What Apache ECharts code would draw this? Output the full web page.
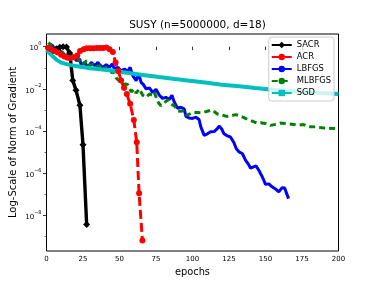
<!DOCTYPE html>
<html><head><meta charset="utf-8">
<script src="https://cdn.jsdelivr.net/npm/echarts@6/dist/echarts.min.js"></script>
<style>html,body{margin:0;padding:0;background:#fff}#c{width:376px;height:282px}</style>
</head><body><div id="c"></div>
<script>
const FONT = 'DejaVu Sans';
const titleText = 'SUSY (n=5000000, d=18)';
const seriesNames = ['SACR', 'ACR', 'LBFGS', 'MLBFGS', 'SGD'];
const xTickValues = [0, 25, 50, 75, 100, 125, 150, 175, 200];
const yMajorExp = [-8, -6, -4, -2, 0];
const yMinorExp = [-9, -7, -5, -3, -1];

// values are log10(norm of gradient)
const sacrEpochs = [4.5, 6.8, 9.1, 11.4, 13.7, 15.9, 18.0, 20.2, 22.9, 25.0, 27.5];
const sacrLog = [-0.18, -0.1, -0.03, 0.0, -0.02, -0.3, -1.6, -2.06, -2.78, -4.65, -8.42];

const acrEpochs = [1.0, 3.2, 5.5, 7.7, 10.0, 12.2, 14.4, 16.6, 18.9, 21.1, 23.0, 25.5, 27.7, 30.0, 32.2, 34.4, 36.6, 38.8, 41.0, 43.2, 45.4, 47.3, 49.2, 51.1, 53.1, 55.0, 57.3, 59.8, 61.8, 63.4, 65.7];
const acrLog = [-0.05, -0.12, -0.2, -0.28, -0.38, -0.47, -0.53, -0.54, -0.5, -0.42, -0.2, -0.12, -0.08, -0.08, -0.07, -0.06, -0.06, -0.06, -0.04, -0.12, -0.25, -0.75, -1.15, -1.6, -1.95, -2.24, -2.71, -3.47, -4.53, -6.94, -9.18];

const lbfgsEpochs = [2.3, 4.1, 5.7, 8.0, 9.1, 11.4, 13.6, 15.5, 17.0, 18.2, 20.5, 22.7, 23.9, 26.1, 28.4, 30.7, 33.0, 35.2, 36.4, 38.6, 40.9, 43.2, 45.0, 46.6, 48.9, 51.1, 53.4, 55.7, 57.3, 59.1, 61.4, 63.2, 64.8, 66.4, 68.2, 70.5, 72.7, 75.0, 77.3, 79.5, 81.8, 84.1, 85.9, 87.5, 89.8, 92.0, 94.3, 95.5, 97.7, 100.0, 102.3, 104.5, 105.7, 108.0, 110.2, 112.5, 114.8, 117.0, 118.2, 120.0, 121.6, 123.2, 126.1, 128.4, 130.0, 131.8, 134.1, 136.4, 138.6, 139.8, 141.4, 143.6, 145.5, 147.3, 148.9, 150.0, 152.3, 154.5, 156.8, 159.1, 161.4, 163.2, 164.1, 165.8];
const lbfgsLog = [0.12, 0.05, -0.11, -0.35, -0.19, -0.32, -0.5, -0.38, -0.58, -0.43, -0.66, -0.58, -0.9, -0.74, -0.98, -0.74, -0.9, -0.74, -0.85, -0.98, -0.85, -0.98, -0.82, -1.06, -0.98, -1.14, -1.06, -1.17, -0.98, -1.37, -1.61, -1.3, -1.69, -1.8, -2.0, -1.95, -2.16, -2.02, -2.3, -2.45, -2.4, -2.5, -2.3, -2.62, -2.92, -2.87, -2.95, -3.3, -3.38, -3.4, -3.34, -3.45, -3.8, -4.2, -4.13, -4.03, -4.02, -3.88, -3.76, -3.9, -4.13, -4.2, -4.29, -4.55, -4.84, -4.98, -5.06, -5.39, -5.6, -5.76, -5.71, -5.65, -5.87, -6.1, -6.34, -6.52, -6.5, -6.64, -6.74, -6.88, -6.68, -6.7, -6.89, -7.2];

const mlbfgsEpochs = [1.5, 2.8, 4.5, 6.8, 8.6, 10.2, 11.8, 13.6, 15.9, 17.5, 19.3, 21.6, 23.2, 25.0, 27.3, 29.5, 31.8, 34.1, 36.4, 38.6, 40.9, 43.2, 45.5, 47.7, 50.0, 52.3, 54.1, 55.7, 58.0, 60.2, 61.4, 63.6, 65.9, 68.2, 70.5, 72.7, 73.9, 76.1, 78.4, 80.7, 83.0, 85.2, 87.5, 89.8, 92.0, 94.3, 95.9, 97.7, 100.0, 103.4, 106.8, 110.2, 113.6, 117.0, 120.5, 123.2, 126.1, 129.5, 131.8, 134.5, 137.5, 140.9, 144.3, 146.6, 150.0, 153.4, 156.8, 160.2, 163.6, 168.2, 172.7, 176.1, 179.5, 184.1, 188.6, 193.2, 200.0];
const mlbfgsLog = [0.2, 0.18, -0.11, -0.27, -0.11, -0.35, -0.19, -0.5, -0.54, -0.38, -0.66, -0.54, -0.79, -0.85, -0.66, -0.9, -0.82, -0.98, -0.9, -1.06, -0.98, -1.26, -1.17, -1.48, -1.64, -1.8, -1.77, -1.8, -2.14, -2.0, -2.2, -2.0, -2.3, -2.4, -2.24, -2.3, -2.16, -2.6, -2.8, -2.65, -2.52, -2.72, -2.8, -3.04, -3.06, -3.03, -3.26, -3.2, -3.12, -3.12, -3.13, -3.06, -3.0, -3.19, -3.24, -3.3, -3.28, -3.22, -3.26, -3.34, -3.44, -3.53, -3.62, -3.6, -3.64, -3.73, -3.68, -3.62, -3.64, -3.68, -3.72, -3.69, -3.79, -3.8, -3.84, -3.86, -3.88];

const sgdEpochs = [0, 2.5, 5, 7.5, 10, 12.5, 15, 20, 30, 43, 55, 66, 77, 88, 98, 110, 120, 132, 143, 155, 166, 177, 188, 200];
const sgdLog = [-0.15, -0.33, -0.5, -0.65, -0.75, -0.8, -0.85, -0.92, -1.02, -1.12, -1.24, -1.34, -1.44, -1.53, -1.61, -1.71, -1.8, -1.88, -1.96, -2.04, -2.1, -2.15, -2.2, -2.24];

const Y_MIN = -9.68, Y_MAX = 0.6;

function pairs(xs, ys) { return xs.map((x, i) => [x, ys[i]]); }

const chart = echarts.init(document.getElementById('c'), null, { renderer: 'canvas' });
const txt = { fontFamily: FONT, color: '#000' };
chart.setOption({
  animation: false,
  backgroundColor: '#fff',
  title: {
    text: titleText, left: 192.5, top: 15, textAlign: 'center',
    textStyle: { fontFamily: FONT, fontSize: 10.5, fontWeight: 'normal', color: '#000' }
  },
  grid: { left: 46.5, right: 37.5, top: 34, bottom: 31, containLabel: false, outerBoundsMode: 'none',
    show: true, borderColor: '#000', borderWidth: 1, backgroundColor: 'rgba(0,0,0,0)' },
  legend: {
    orient: 'vertical', right: 42, top: 37,
    data: seriesNames,
    itemWidth: 20, itemHeight: 8, itemGap: 4,
    padding: [4, 3, 4, 2],
    backgroundColor: 'rgba(255,255,255,0.8)', borderColor: '#ccc', borderWidth: 1, borderRadius: 3,
    textStyle: { fontFamily: FONT, fontSize: 8.4, color: '#000' }
  },
  xAxis: {
    type: 'value', min: 0, max: 200, interval: 25,
    splitLine: { show: false }, axisLine: { show: false },
    axisTick: { show: true, length: 3.5, lineStyle: { color: '#000', width: 0.8 } },
    axisLabel: { ...txt, fontSize: 7, margin: 5, customValues: xTickValues },
    name: 'epochs', nameLocation: 'middle', nameGap: 16, nameMoveOverlap: false,
    nameTextStyle: { ...txt, fontSize: 9.8 }
  },
  yAxis: [{
    type: 'value', min: Y_MIN, max: Y_MAX,
    splitLine: { show: false }, axisLine: { show: false },
    axisTick: { show: true, length: 3.5, lineStyle: { color: '#000', width: 0.8 }, customValues: yMajorExp },
    axisLabel: {
      customValues: yMajorExp, margin: 5,
      formatter: function (v) {
        const n = Math.round(v);
        return '{b|10}{s|' + (n < 0 ? '\u2212' + (-n) : String(n)) + '}';
      },
      rich: {
        b: { fontFamily: FONT, fontSize: 7, color: '#000', lineHeight: 11, verticalAlign: 'bottom' },
        s: { fontFamily: FONT, fontSize: 5, color: '#000', lineHeight: 6, verticalAlign: 'top' }
      }
    },
    name: 'Log-Scale of Norm of Gradient', nameLocation: 'middle', nameGap: 28, nameMoveOverlap: false,
    nameTextStyle: { ...txt, fontSize: 10 }
  }, {
    type: 'value', min: Y_MIN, max: Y_MAX, position: 'left',
    splitLine: { show: false }, axisLine: { show: false }, axisLabel: { show: false },
    axisTick: { show: true, length: 2, lineStyle: { color: '#000', width: 0.6 }, customValues: yMinorExp }
  }],
  series: [
    { name: 'SACR', type: 'line', data: pairs(sacrEpochs, sacrLog), symbol: 'diamond', symbolSize: 7, showAllSymbol: true,
      lineStyle: { color: '#000', width: 3.4 }, itemStyle: { color: '#000' } },
    { name: 'ACR', type: 'line', data: pairs(acrEpochs, acrLog), symbol: 'circle', symbolSize: 6, showAllSymbol: true,
      lineStyle: { color: '#ff0000', width: 3, type: [9, 4] }, itemStyle: { color: '#ff0000' } },
    { name: 'LBFGS', type: 'line', data: pairs(lbfgsEpochs, lbfgsLog), symbol: 'none',
      lineStyle: { color: '#0000ff', width: 3 }, itemStyle: { color: '#0000ff' } },
    { name: 'MLBFGS', type: 'line', data: pairs(mlbfgsEpochs, mlbfgsLog), symbol: 'none',
      lineStyle: { color: '#008000', width: 3, type: [6, 4] }, itemStyle: { color: '#008000' } },
    { name: 'SGD', type: 'line', data: pairs(sgdEpochs, sgdLog), symbol: 'rect', symbolSize: 5, showSymbol: false,
      lineStyle: { color: '#00bfbf', width: 4 }, itemStyle: { color: '#00bfbf' } }
  ]
});
</script></body></html>
